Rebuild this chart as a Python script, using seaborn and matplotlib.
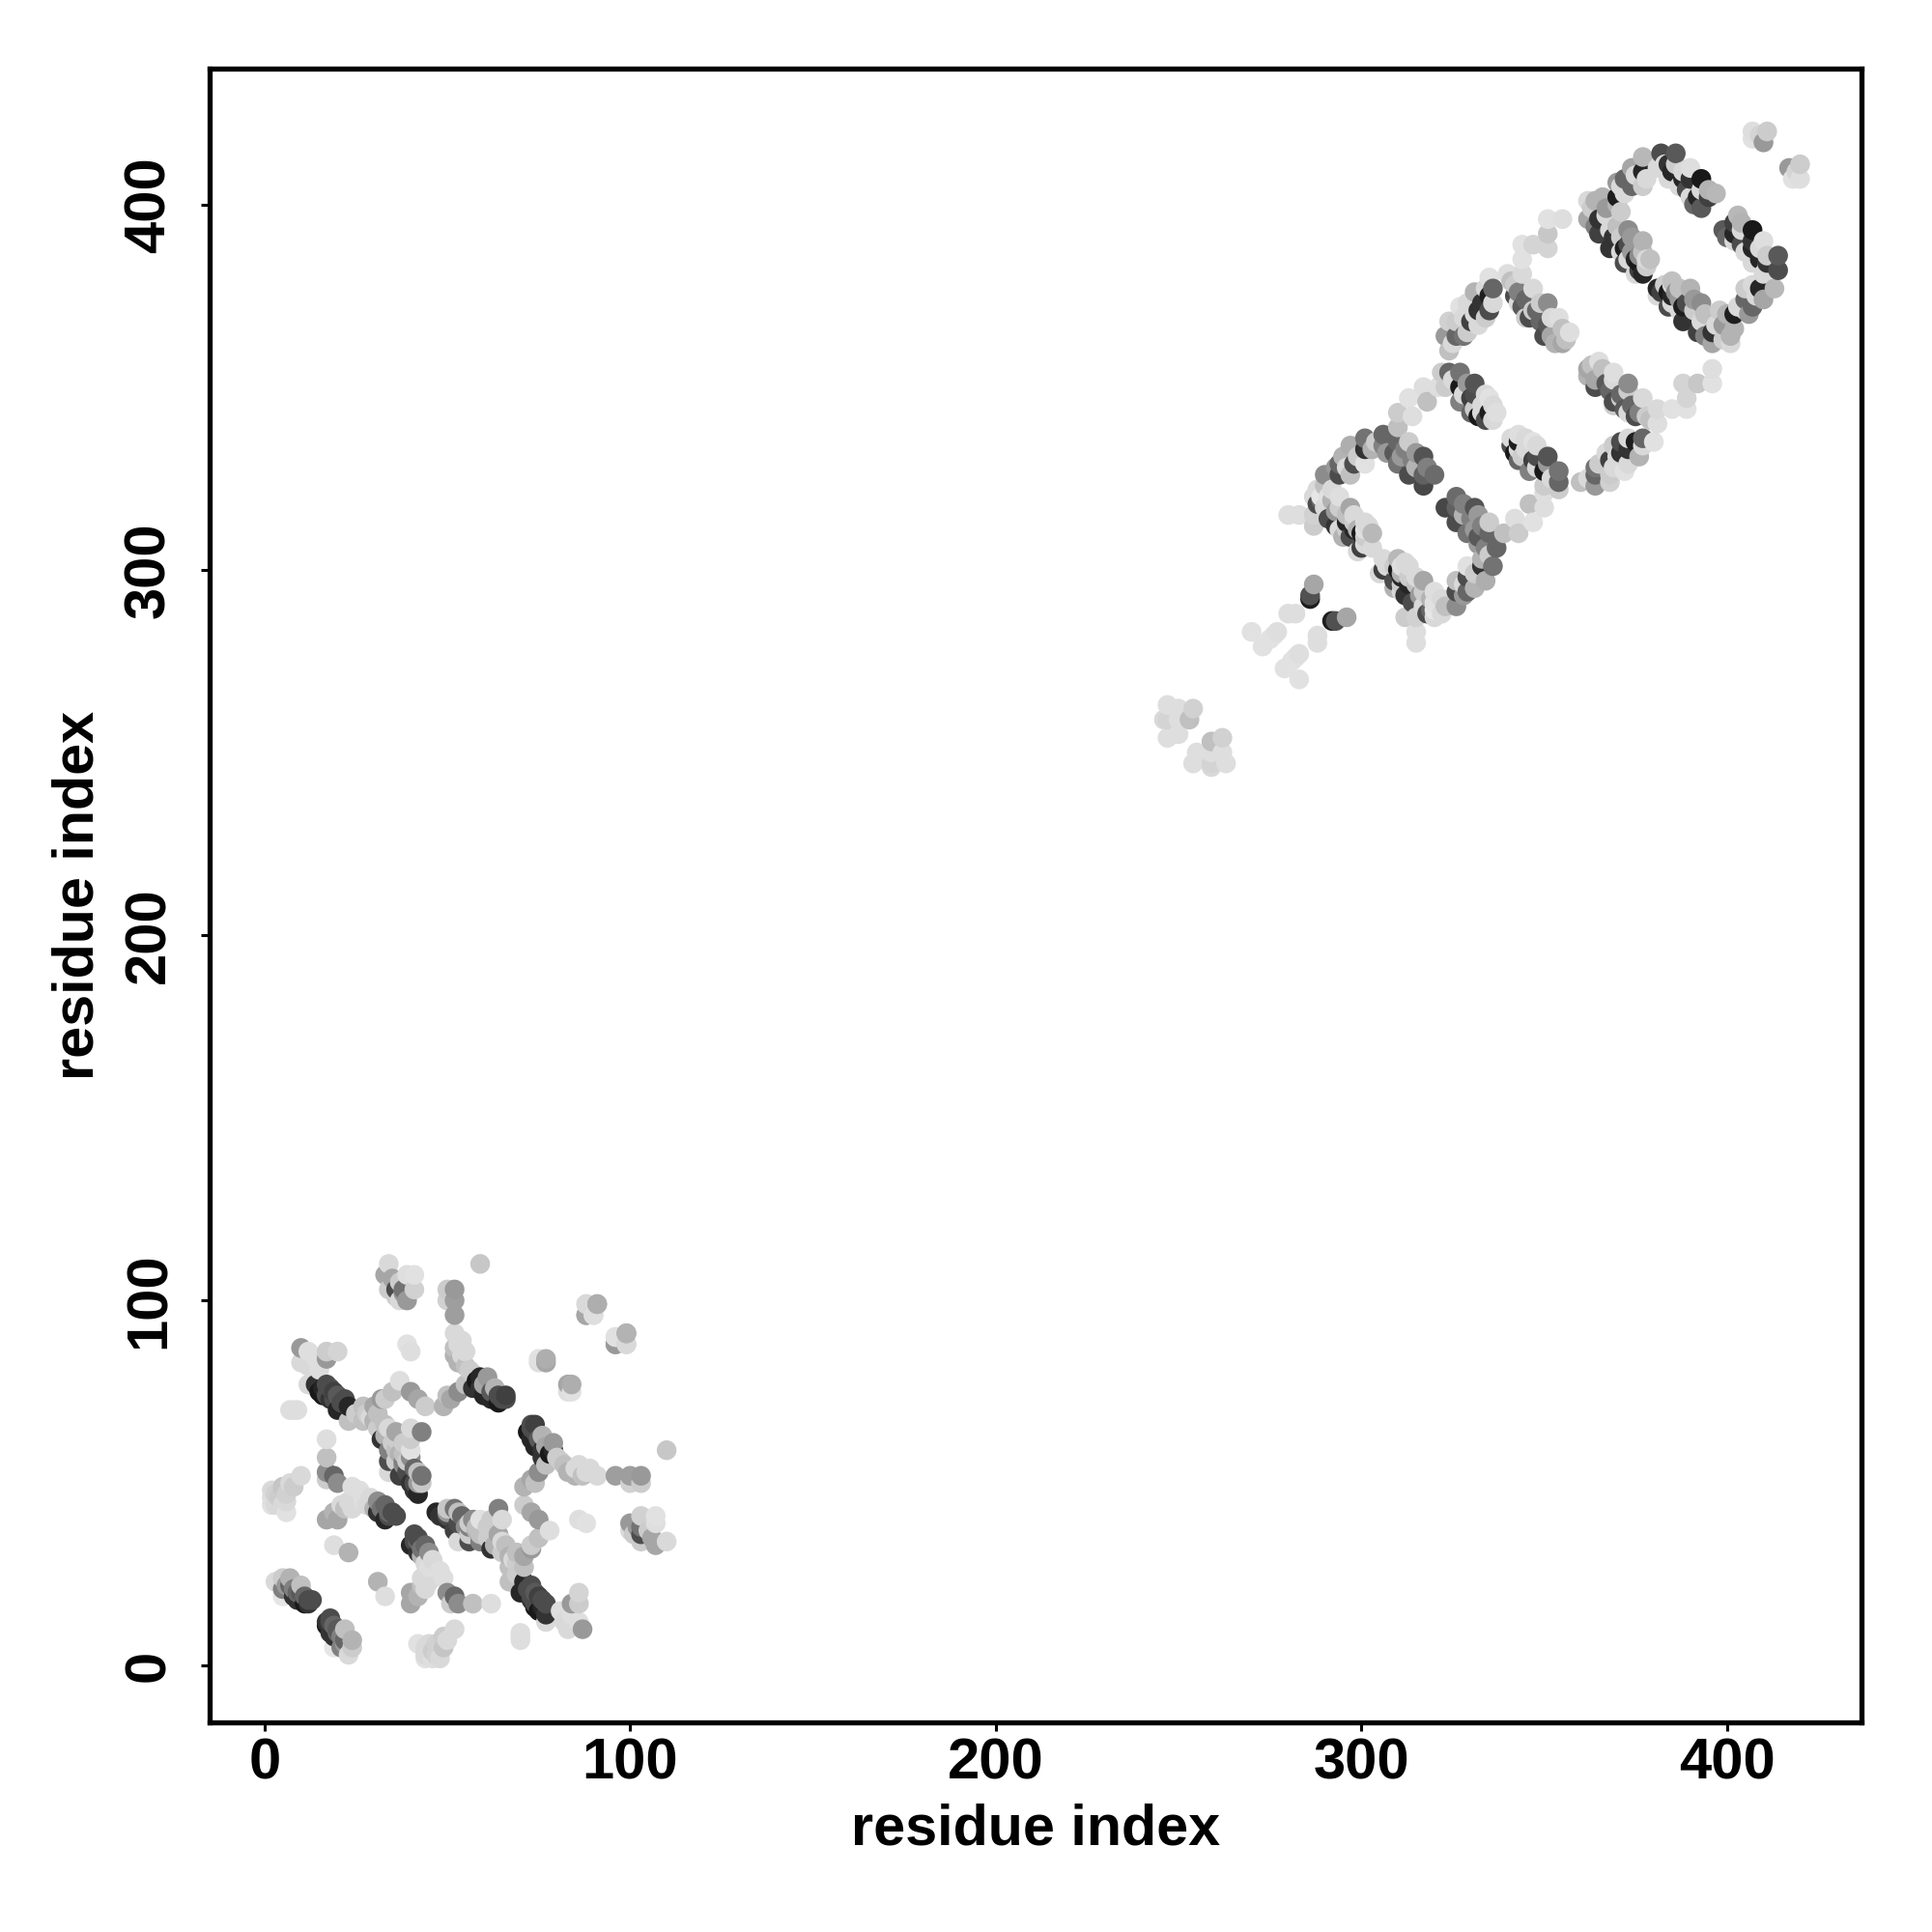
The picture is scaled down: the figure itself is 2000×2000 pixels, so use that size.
import matplotlib
matplotlib.use("Agg")
import matplotlib.pyplot as plt
import pandas as pd
import seaborn as sns

# One triangle of the symmetric residue contact map.
low_x = [34,33,35,34,36,37,38,39,41,41,39,37,38,36,
         59,52,50,52,50,52,
         52,54,52,55,53,56,58,61,57,63,60,62,64,66,66,
         49,51,53,50,55,
         91,88,88,90,99,96,96,99,
         77,75,84,84,39,40,
         10,12,17,20,17,14,10,12,15,12,
         17,16,20,18,22,20,23,16,14,
         7,8,9,
         27,25,23,27,30,32,35,37,33,40,42,44,
         30,33,36,43,40,40,38,32,34,40,40,36,34,
         37,41,34,40,43,43,41,38,42,
         17,17,17,19,20,17,
         10,8,5,2,2,4,5,2,6,3,
         24,26,23,25,22,19,17,20,28,31,33,31,33,36,24,
         19,23,
         3,5,7,5,7,10,8,10,11,13,5,
         18,19,21,17,19,15,59,62,65,64,
         28,31,31,33,35,36,37,38,39,39,41,42,36,38,42,29,34,
         27,29,30,32,34,35,34,21,
         6,8,9,11,12,9,12,
         3,6,7,4,6,
         53,54,52,55,57,59,60]
low_y = [110,107,106,103,103,105,103,107,107,103,100,100,102,101,
         110,103,103,100,100,96,
         91,89,87,86,83,81,78,79,76,76,74,73,72,74,73,
         71,73,75,74,77,
         99,99,96,96,91,90,88,88,
         83,83,77,75,88,86,
         87,86,86,86,84,84,83,82,81,77,
         77,76,74,73,73,70,71,74,77,
         70,70,70,
         71,69,67,67,71,73,75,78,73,75,73,71,
         67,66,64,64,65,62,61,62,59,59,57,59,56,
         52,54,53,50,52,50,48,55,47,
         62,57,53,52,50,51,
         52,49,49,48,46,46,44,44,42,44,
         49,48,45,44,43,42,40,40,44,45,44,42,40,41,43,
         33,31,
         23,24,24,21,22,22,19,20,17,18,19,
         76,73,72,74,75,75,76,75,73,74,
         69,69,65,63,61,62,58,56,53,56,50,53,56,58,50,68,65,
         45,46,43,43,42,42,41,44,
         22,21,20,19,18,18,17,
         47,47,50,44,45,
         88,85,85,82,80,79,77]
low_shade = [.85,.65,.65,.8,.3,.8,.45,.87,.88,.82,.6,.85,.6,.8,
             .78,.6,.8,.62,.82,.62,
             .85,.85,.75,.85,.7,.8,.1,.6,.2,.7,.15,.15,.1,.25,.3,
             .7,.65,.55,.75,.75,
             .7,.85,.6,.88,.68,.87,.65,.85,
             .65,.87,.68,.88,.88,.87,
             .6,.87,.8,.83,.6,.87,.85,.85,.87,.85,
             .3,.15,.35,.2,.3,.15,.15,.1,.2,
             .87,.87,.87,
             .75,.8,.75,.75,.65,.6,.75,.87,.8,.6,.65,.8,
             .7,.75,.65,.5,.85,.8,.8,.2,.5,.88,.55,.75,.3,
             .25,.4,.85,.2,.45,.78,.2,.55,.15,
             .87,.75,.55,.4,.55,.8,
             .85,.8,.77,.85,.87,.8,.85,.88,.88,.85,
             .87,.87,.85,.85,.75,.7,.65,.65,.85,.55,.4,.2,.15,.3,.85,
             .87,.7,
             .85,.8,.7,.5,.4,.75,.2,.35,.1,.3,.9,
             .3,.3,.3,.3,.25,.1,.2,.35,.3,.3,
             .8,.75,.8,.7,.8,.8,.7,.5,.3,.8,.3,.75,.8,.75,.6,.85,.85,
             .87,.85,.7,.45,.4,.3,.3,.85,
             .6,.5,.4,.4,.3,.2,.2,
             .82,.82,.85,.85,.85,
             .85,.85,.7,.75,.8,.15,.65]

high_x = [407,411,410,407,409,
          382,386,390,393,397,393,390,385,388,392,381,384,395,
          377,377,374,377,374,370,370,371,
          362,366,362,365,370,370,365,373,369,377,373,368,372,379,376,375,372,376,375,376,
          351,355,351,344,347,351,344,344,
          324,323,324,326,328,327,330,332,331,332,335,335,335,
          340,341,343,347,342,344,346,351,348,354,351,357,355,353,350,
          324,327,322,331,327,323,335,327,330,337,334,332,330,335,
          321,317,318,313,314,310,310,
          301,306,297,301,310,306,313,294,298,309,314,317,290,294,297,301,313,317,320,317,310,
          290,294,287,291,289,288,280,283,287,287,
          297,293,291,293,296,301,298,297,300,303,300,295,299,
          287,286,286,280,282,270,277,275,273,276,
          247,250,247,250,254,253,247,250,246,
          383,386,388,390,393,395,391,387,384,389,
          363,364,367,367,371,368,371,374,371,374,373,377,378,377,378,364,
          372,375,372,378,
          325,326,328,329,331,333,334,336,334,336,329,
          342,343,345,347,349,349,352,352,355,356,345,
          325,329,328,331,333,336,331,334,333,336,
          295,299,303,304,307,311,315,293,296,312,315,318,
          288,290,292,292,289,294,294,296,296,298,299,298,301,302,301,301,303]
high_y = [420,420,417,418,419,
          414,414,410,407,403,399,402,409,407,402,410,411,402,
          413,409,410,405,405,406,402,405,
          401,402,396,396,400,394,392,393,391,390,389,388,388,385,386,385,384,382,381,384,
          396,396,392,389,389,388,385,381,
          360,364,368,364,364,372,368,367,376,371,380,375,371,
          381,379,376,377,375,372,369,373,371,369,367,365,362,362,364,
          354,354,354,351,350,350,347,346,347,343,341,342,343,343,
          350,350,346,347,342,343,339,
          336,337,334,333,335,334,335,329,329,332,330,331,326,326,326,329,326,326,326,323,329,
          323,320,320,320,319,318,315,315,315,312,
          317,316,314,312,313,313,313,309,310,310,306,309,305,
          296,293,292,288,288,283,283,281,279,282,
          263,262,259,259,262,259,254,255,259,
          411,411,409,407,404,404,400,405,407,404,
          399,394,397,399,398,393,391,391,387,387,385,387,383,381,385,401,
          403,408,407,407,
          362,368,369,365,370,373,369,377,377,373,373,
          378,373,374,371,368,373,369,364,366,363,369,
          352,351,348,348,345,345,344,348,343,341,
          331,331,333,335,332,331,328,328,328,333,332,328,
          322,317,319,322,320,317,311,311,315,315,311,311,311,312,307,309,306]
high_shade = [.87,.8,.6,.88,.83,
              .3,.35,.87,.1,.72,.35,.85,.15,.15,.15,.85,.2,.25,
              .72,.15,.65,.8,.4,.6,.12,.85,
              .85,.7,.65,.2,.7,.75,.25,.55,.2,.7,.3,.2,.12,.75,.55,.15,.3,.25,.85,.1,
              .88,.87,.78,.88,.83,.83,.88,.85,
              .75,.6,.82,.4,.45,.88,.25,.85,.7,.2,.88,.12,.3,
              .87,.75,.5,.85,.3,.35,.3,.55,.4,.87,.35,.87,.65,.7,.3,
              .4,.45,.8,.33,.1,.8,.88,.5,.25,.87,.3,.1,.4,.12,
              .87,.87,.75,.88,.87,.8,.75,
              .45,.4,.68,.2,.4,.5,.8,.4,.3,.35,.5,.33,.55,.3,.75,.88,.3,.38,.42,.28,.45,
              .75,.87,.85,.88,.4,.3,.87,.87,.82,.8,
              .65,.6,.3,.2,.15,.85,.8,.3,.1,.72,.25,.7,.85,
              .65,.32,.12,.87,.87,.88,.87,.88,.88,.88,
              .87,.87,.83,.87,.82,.75,.87,.87,.85,
              .85,.8,.85,.2,.85,.7,.4,.85,.85,.3,
              .8,.5,.85,.6,.8,.85,.8,.6,.85,.6,.85,.75,.8,.15,.85,.7,
              .85,.85,.4,.85,
              .85,.8,.85,.8,.85,.2,.8,.4,.85,.85,.85,
              .8,.85,.4,.8,.4,.8,.85,.65,.75,.75,.8,
              .85,.6,.85,.3,.85,.85,.8,.85,.85,.85,
              .7,.8,.7,.8,.6,.6,.7,.6,.85,.5,.6,.5,
              .85,.85,.7,.85,.9,.8,.85,.8,.75,.85,.7,.15,.87,.85,.85,.8,.85]

tick_values = [0, 100, 200, 300, 400]
axis_title = "residue index"

first = low_x + high_x
second = low_y + high_y
shade = low_shade + high_shade
contacts = pd.DataFrame({"i": first + second, "j": second + first, "shade": shade + shade})
contacts = contacts.sort_values(["i", "j"], kind="stable")

sns.set_theme(style="white")
plt.rcParams["font.family"] = ["Liberation Sans", "DejaVu Sans"]
plt.rcParams["font.weight"] = "bold"

fig = plt.figure(figsize=(10, 10), dpi=200)
ax = fig.add_axes([217 / 2000, 1 - 1783 / 2000, (1927 - 217) / 2000, (1783 - 71) / 2000])

sns.scatterplot(data=contacts, x="i", y="j", hue="shade", palette="gray", hue_norm=(0, 1),
                s=54, linewidth=0, legend=False, ax=ax, clip_on=True)

ax.set_xlim(-15, 436.8)
ax.set_ylim(-15.5, 437.2)
ax.set_xticks(tick_values)
ax.set_yticks(tick_values)
ax.tick_params(axis="x", length=3.4, width=1.1, color="black", labelsize=21.5,
               labelcolor="black", pad=2, bottom=True)
ax.tick_params(axis="y", length=3.4, width=1.1, color="black", labelsize=21.5,
               labelcolor="black", pad=9, left=True)
for label in ax.get_yticklabels():
    label.set_rotation(90)
    label.set_va("center")
for label in ax.get_xticklabels() + ax.get_yticklabels():
    label.set_fontweight("bold")
for spine in ax.spines.values():
    spine.set_linewidth(1.9)
    spine.set_color("black")
ax.set_xlabel(axis_title, fontsize=21.4, fontweight="bold", color="black", labelpad=5)
ax.set_ylabel(axis_title, fontsize=21.4, fontweight="bold", color="black", labelpad=7)

fig.savefig("out.png", dpi=200, facecolor="white")
